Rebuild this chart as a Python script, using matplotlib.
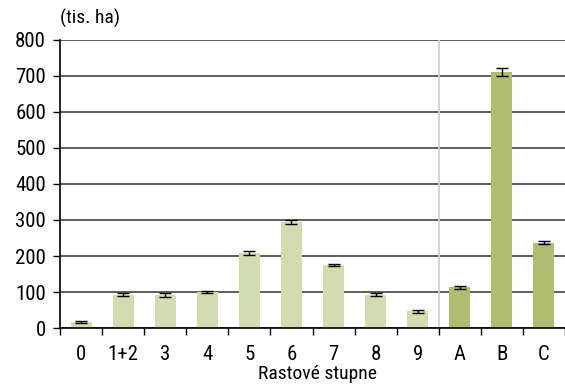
import matplotlib
matplotlib.use('Agg')
import numpy as np
import matplotlib.pyplot as plt

# data
categories = ["0", "1+2", "3", "4", "5", "6", "7", "8", "9", "A", "B", "C"]
values = [17, 93, 92, 99, 209, 295, 175, 92, 46, 113, 712, 237]
errors = [2, 5, 5, 3, 5, 6, 4, 4, 3, 4, 11, 5]
groups = ["light"] * 9 + ["dark"] * 3
yticks = [0, 100, 200, 300, 400, 500, 600, 700, 800]

plt.rcParams['font.family'] = ['Roboto Condensed', 'DejaVu Sans']

colors = {"light": "#d3dcb1", "dark": "#afbc72"}

fig = plt.figure(figsize=(5.65, 3.85), dpi=100)
ax = fig.add_axes([60 / 565, 1 - 328 / 385, 505 / 565, 288 / 385])

x = np.arange(len(categories))
ax.bar(x, values, width=0.5, color=[colors[g] for g in groups], zorder=2)
ax.errorbar(x, values, yerr=errors, fmt='none', ecolor='black',
            elinewidth=1, capsize=4, capthick=1, zorder=3)

ax.set_ylim(0, 800)
ax.set_xlim(-0.5, -0.5 + 505 / 42.5)
ax.set_yticks(yticks)
ax.yaxis.grid(True, color='#333333', linewidth=1.1, zorder=0)
ax.set_axisbelow(True)

ax.set_xticks(x)
ax.set_xticklabels(categories)
ax.set_xticks(np.arange(len(categories) + 1) - 0.5, minor=True)
ax.tick_params(axis='x', which='major', length=0, pad=12, labelsize=15)
ax.tick_params(axis='x', which='minor', length=5, width=1)
ax.tick_params(axis='y', length=5, width=1, labelsize=15, pad=5)

ax.axvline(8.5, color='#d0d0d0', linewidth=1.2, zorder=1)

for s in ['top', 'right']:
    ax.spines[s].set_visible(False)
ax.spines['left'].set_linewidth(1.2)
ax.spines['bottom'].set_linewidth(1.2)

fig.text(60 / 565, 1 - 18 / 385, "(tis. ha)", fontsize=14, va='center', ha='left')
fig.text(317 / 565, 1 - 374 / 385, "Rastové stupne", fontsize=14, va='center', ha='center')

fig.savefig("out.png", dpi=100)
